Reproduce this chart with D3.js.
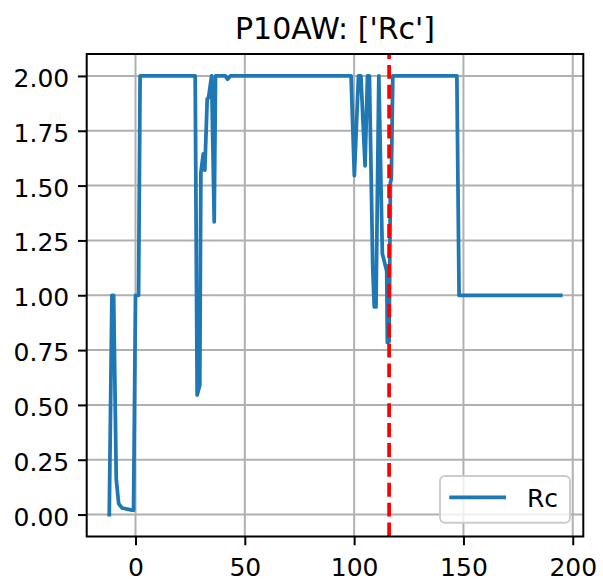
<!DOCTYPE html>
<html>
<head>
<meta charset="utf-8">
<script src="https://cdn.jsdelivr.net/npm/d3@7"></script>
<style>
body { margin: 0; background: #ffffff; }
text { font-family: "DejaVu Sans", sans-serif; fill: #000000; }
</style>
</head>
<body>
<svg id="chart" width="603" height="585"></svg>
<script>
// series
var xs = [-12, -10.8, -10, -8.8, -7.7, -6.2, -1.6, -0.9, 0, 1.4, 2.1,
          27.3, 28.2, 29.4, 29.9, 31.0, 31.7, 32.8, 33.4, 34.8, 36.0, 36.6,
          41.1, 42.1, 43.4,
          98.6, 100.1, 102.0, 103.1, 105.0, 106.1, 107.0, 108.5, 109.2, 110.0, 111.3,
          112.9, 114.9, 115.2, 116.0, 116.6, 117.0, 117.7,
          147.0, 148.0, 194.5];
var ys = [0, 1.0, 1.0, 0.16, 0.05, 0.03, 0.02, 0.02, 1.0, 1.0, 2.0,
          2.0, 0.545, 0.59, 1.56, 1.645, 1.57, 1.895, 1.90, 2.0, 1.335, 2.0,
          2.0, 1.985, 2.0,
          2.0, 1.545, 2.0, 2.0, 1.59, 2.0, 2.0, 1.13, 0.947, 0.947, 2.0,
          1.19, 1.11, 0.785, 0.79, 1.515, 1.53, 2.0,
          2.0, 1.0, 1.0];
var markX = 116;
var xTicks = [0, 50, 100, 150, 200];
var yTicks = [0, 0.25, 0.5, 0.75, 1.0, 1.25, 1.5, 1.75, 2.0];
var seriesName = "Rc";
var title = "P10AW: ['Rc']";

var svg;
var plotLeft = 86.7, plotRight = 583.3, plotTop = 54, plotBottom = 536.5;

var setup = function() {
    svg = d3.select("#chart");
    svg.append("rect").attr("width", 603).attr("height", 585).attr("fill", "#ffffff");

    // matplotlib style 5% margins
    var xext = d3.extent(xs), yext = d3.extent(ys);
    var xm = (xext[1] - xext[0]) * 0.05, ym = (yext[1] - yext[0]) * 0.05;
    var x = d3.scaleLinear().domain([xext[0] - xm, xext[1] + xm]).range([plotLeft, plotRight]);
    var y = d3.scaleLinear().domain([yext[0] - ym, yext[1] + ym]).range([plotBottom, plotTop]);

    var grid = svg.append("g").attr("stroke", "#b0b0b0").attr("stroke-width", 2);
    grid.selectAll(".gx").data(xTicks).enter().append("line")
	.attr("x1", function(d) { return x(d); }).attr("x2", function(d) { return x(d); })
	.attr("y1", plotTop).attr("y2", plotBottom);
    grid.selectAll(".gy").data(yTicks).enter().append("line")
	.attr("y1", function(d) { return y(d); }).attr("y2", function(d) { return y(d); })
	.attr("x1", plotLeft).attr("x2", plotRight);

    var line = d3.line()
	.x(function(d) { return x(d); })
	.y(function(d, i) { return y(ys[i]); });
    svg.append("path")
	.attr("d", line(xs))
	.attr("fill", "none")
	.attr("stroke", "#1f77b4")
	.attr("stroke-width", 3.75)
	.attr("stroke-linejoin", "round")
	.attr("stroke-linecap", "square");

    svg.append("line")
	.attr("x1", x(markX)).attr("x2", x(markX))
	.attr("y1", plotBottom).attr("y2", plotTop)
	.attr("stroke", "#ff0000")
	.attr("stroke-width", 3.75)
	.attr("stroke-dasharray", "13.9,6");

    var xAxis = svg.append("g")
	.attr("transform", "translate(0," + plotBottom + ")")
	.call(d3.axisBottom(x).tickValues(xTicks).tickFormat(d3.format("d"))
	      .tickSize(8.75).tickPadding(8.75).tickSizeOuter(0));
    var yAxis = svg.append("g")
	.attr("transform", "translate(" + plotLeft + ",0)")
	.call(d3.axisLeft(y).tickValues(yTicks).tickFormat(d3.format(".2f"))
	      .tickSize(8.75).tickPadding(8.75).tickSizeOuter(0));
    [xAxis, yAxis].forEach(function(a) {
	a.select(".domain").remove();
	a.selectAll(".tick line").attr("stroke", "#000000").attr("stroke-width", 2);
	a.selectAll(".tick text").attr("font-size", 25).attr("font-family", "DejaVu Sans");
    });
    xAxis.selectAll(".tick text").attr("dy", "0.88em");
    yAxis.selectAll(".tick text").attr("dy", "0.42em");

    svg.append("rect")
	.attr("x", plotLeft).attr("y", plotTop)
	.attr("width", plotRight - plotLeft).attr("height", plotBottom - plotTop)
	.attr("fill", "none").attr("stroke", "#000000").attr("stroke-width", 2);

    // legend
    var lg = svg.append("g");
    lg.append("rect")
	.attr("x", 440).attr("y", 476).attr("width", 130).attr("height", 46.7)
	.attr("rx", 5).attr("fill", "#ffffff").attr("fill-opacity", 0.8)
	.attr("stroke", "#cccccc").attr("stroke-width", 2);
    lg.append("line")
	.attr("x1", 449.3).attr("x2", 506).attr("y1", 497.3).attr("y2", 497.3)
	.attr("stroke", "#1f77b4").attr("stroke-width", 3.75);
    lg.append("text").attr("x", 527).attr("y", 506.7).attr("font-size", 25).text(seriesName);

    svg.append("text")
	.attr("x", (plotLeft + plotRight) / 2).attr("y", 39)
	.attr("text-anchor", "middle").attr("font-size", 30)
	.text(title);
};

window.onload = setup;
</script>
</body>
</html>
